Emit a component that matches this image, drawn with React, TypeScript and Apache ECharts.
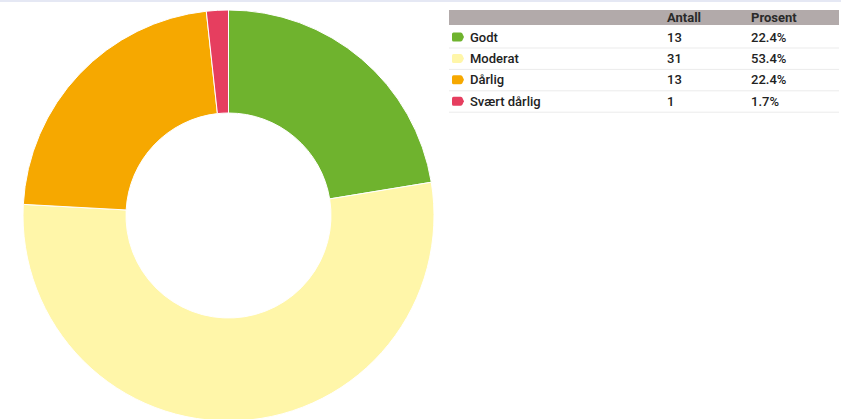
import React, { useEffect, useRef } from "react";
import * as echarts from "echarts";

const categories = ["Godt", "Moderat", "Dårlig", "Svært dårlig"];
const counts = [13, 31, 13, 1];
const percentLabels = ["22.4%", "53.4%", "22.4%", "1.7%"];
const colors = ["#6fb32e", "#fff6a9", "#f6a800", "#e63e5f"];
const headers = ["Antall", "Prosent"];

echarts.graphic.registerShape(
  "legendTag",
  echarts.graphic.extendPath("M1.5,0 L8.5,0 Q9.5,0 10.2,0.8 L12,4.5 L10.2,8.2 Q9.5,9 8.5,9 L1.5,9 Q0,9 0,7.5 L0,1.5 Q0,0 1.5,0 Z", {}) as any
);

export default function App() {
  const ref = useRef<HTMLDivElement>(null);
  useEffect(() => {
    document.body.style.margin = "0";
    const chart = echarts.init(ref.current!, null, { renderer: "svg" });
    const font = "Roboto, 'Noto Sans', sans-serif";
    const tableX = 449;
    const tableW = 390;
    const rowH = 21.4;
    const firstRowY = 37;
    const colA = 667;
    const colB = 751;
    const graphics: any[] = [
      { type: "rect", shape: { x: 0, y: 0, width: 841, height: 2 }, style: { fill: "#e5e8f4" }, silent: true },
      { type: "rect", shape: { x: tableX, y: 10, width: tableW, height: 15 }, style: { fill: "#b2aaaa" } },
      { type: "text", x: colA, y: 17.5, style: { text: headers[0], font: `bold 13px ${font}`, fill: "#2a2a2a", verticalAlign: "middle" } },
      { type: "text", x: colB, y: 17.5, style: { text: headers[1], font: `bold 13px ${font}`, fill: "#2a2a2a", verticalAlign: "middle" } },
    ];
    categories.forEach((c, i) => {
      const cy = firstRowY + i * rowH;
      graphics.push(
        { type: "legendTag", x: 452, y: cy - 4.5, style: { fill: colors[i] } },
        { type: "text", x: 470, y: cy, style: { text: c, font: `500 13px ${font}`, fill: "#222", verticalAlign: "middle" } },
        { type: "text", x: colA, y: cy, style: { text: String(counts[i]), font: `500 13px ${font}`, fill: "#222", verticalAlign: "middle" } },
        { type: "text", x: colB, y: cy, style: { text: percentLabels[i], font: `500 13px ${font}`, fill: "#222", verticalAlign: "middle" } },
        { type: "line", shape: { x1: tableX, y1: cy + 11, x2: tableX + tableW, y2: cy + 11 }, style: { stroke: "#ebebeb", lineWidth: 1 } }
      );
    });
    chart.setOption({
      animation: false,
      backgroundColor: "#ffffff",
      graphic: graphics,
      series: [
        {
          type: "pie",
          center: [228.5, 215.5],
          radius: [102.5, 205.5],
          startAngle: 90,
          clockwise: true,
          label: { show: false },
          labelLine: { show: false },
          silent: true,
          itemStyle: { borderColor: "#ffffff", borderWidth: 1 },
          data: categories.map((c, i) => ({ name: c, value: counts[i], itemStyle: { color: colors[i] } })),
        },
      ],
    });
    return () => chart.dispose();
  }, []);
  return <div ref={ref} style={{ position: "fixed", left: 0, top: 0, width: 841, height: 419 }} />;
}
